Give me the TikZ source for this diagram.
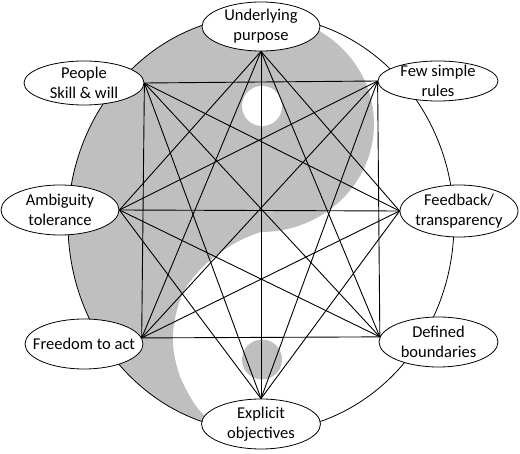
\documentclass[tikz,border=0pt]{standalone}
\usepackage{fontspec}
\setmainfont{Carlito}
\usetikzlibrary{shapes.geometric}
\definecolor{yygray}{RGB}{191,191,191}
\begin{document}
\begin{tikzpicture}[x=1pt,y=-1pt,
  bub/.style={ellipse, draw=black, fill=white, line width=0.8pt, inner sep=0pt,
              minimum width=118pt, minimum height=50pt},
  txt/.style={font=\fontsize{16.5}{20}\selectfont, align=center, inner sep=0pt},
  link/.style={line width=0.9pt, black}]
\useasboundingbox (0,0) rectangle (520,454);
% yin-yang
\fill[yygray] (261,15.5) arc[start angle=270, end angle=90, x radius=193, y radius=208]
  -- plot[smooth, tension=0.6] coordinates {(261,431.5) (225,426) (203,414) (188,393) (177,367) (173,333) (183,293) (207,263) (237,242) (261,232)}
  arc[start angle=90, end angle=-90, x radius=113, y radius=108.25] -- cycle;
\fill[white] (262,106) circle[radius=20];
\fill[yygray] (262,359.5) circle[radius=20];
\draw[line width=0.8pt] (261,223.5) ellipse[x radius=193, y radius=208];
% nodes
\node[bub, minimum width=118pt, minimum height=49pt, label={[txt]center:Underlying\\purpose}] (up) at (261,26.5) {};
\node[bub, minimum width=120pt, minimum height=40pt, label={[txt]center:Few simple\\rules}] (few) at (438,81) {};
\node[bub, minimum width=118pt, minimum height=52pt, label={[txt]center:Feedback/\\transparency}] (feed) at (459,211) {};
\node[bub, minimum width=119pt, minimum height=50pt, label={[txt]center:Defined\\boundaries}] (def) at (438.5,342) {};
\node[bub, minimum width=119pt, minimum height=50pt, label={[txt]center:Explicit\\objectives}] (exp) at (261,424) {};
\node[bub, minimum width=118pt, minimum height=50pt, label={[txt]center:Freedom to act}] (free) at (84,344) {};
\node[bub, minimum width=118pt, minimum height=50pt, label={[txt]center:Ambiguity\\tolerance}] (amb) at (60,210) {};
\node[bub, minimum width=120pt, minimum height=44pt, label={[txt]center:People\\Skill \& will}] (ppl) at (84,83) {};
% connectors
\draw[link] (up.south) -- (feed.west);
\draw[link] (up.south) -- (def.175);
\draw[link] (up.south) -- (exp.north);
\draw[link] (up.south) -- (free.6);
\draw[link] (up.south) -- (amb.east);
\draw[link] (few.west) -- (def.175);
\draw[link] (few.west) -- (exp.north);
\draw[link] (few.west) -- (free.6);
\draw[link] (few.west) -- (amb.east);
\draw[link] (few.west) -- (ppl.east);
\draw[link] (feed.west) -- (exp.north);
\draw[link] (feed.west) -- (free.6);
\draw[link] (feed.west) -- (amb.east);
\draw[link] (feed.west) -- (ppl.east);
\draw[link] (def.175) -- (free.6);
\draw[link] (def.175) -- (amb.east);
\draw[link] (def.175) -- (ppl.east);
\draw[link] (exp.north) -- (amb.east);
\draw[link] (exp.north) -- (ppl.east);
\draw[link] (free.6) -- (ppl.east);
\end{tikzpicture}
\end{document}
